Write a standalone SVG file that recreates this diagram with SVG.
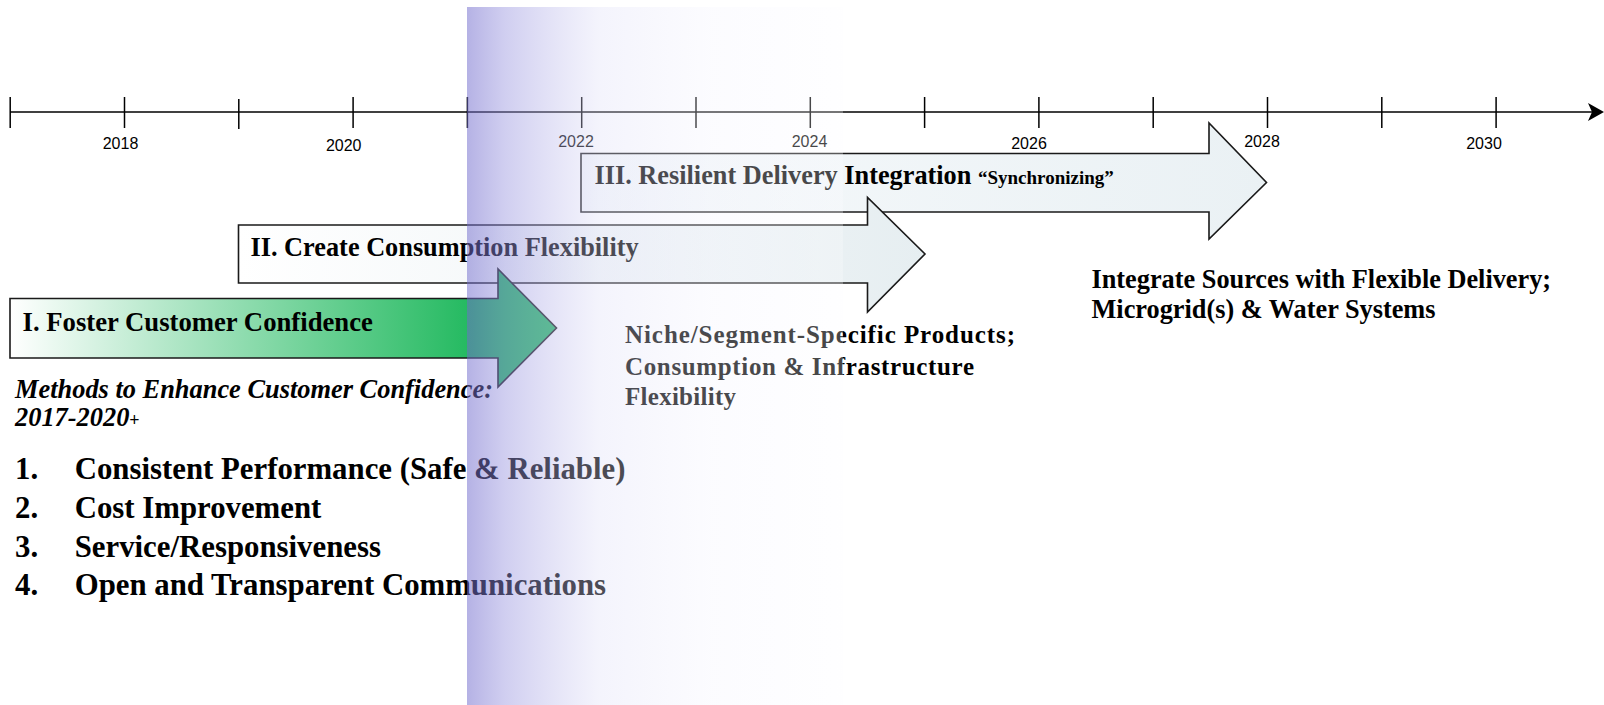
<svg xmlns="http://www.w3.org/2000/svg" width="1604" height="705" viewBox="0 0 1604 705">
<defs>
<style>
.tick{stroke:#000;stroke-width:1.5}
.yr{font-family:"Liberation Sans",Arial,sans-serif;font-size:16px;fill:#000;text-anchor:middle}
.arrow{stroke:#1a1a1a;stroke-width:1.6}
.t{font-family:"Liberation Serif","Times New Roman",serif;font-weight:bold;fill:#000}
.big{font-size:26.3px}
.list{font-size:30.8px}
.niche{font-size:25px}
</style>
<linearGradient id="gI" gradientUnits="userSpaceOnUse" x1="10" y1="0" x2="475" y2="0">
<stop offset="0" stop-color="#ffffff"/>
<stop offset="0.5" stop-color="#8fdcaf"/>
<stop offset="1" stop-color="#22b95f"/>
</linearGradient>
<linearGradient id="gII" gradientUnits="userSpaceOnUse" x1="238" y1="0" x2="925" y2="0">
<stop offset="0" stop-color="#ffffff"/>
<stop offset="1" stop-color="#e6eef1"/>
</linearGradient>
<linearGradient id="gIII" gradientUnits="userSpaceOnUse" x1="581" y1="0" x2="1266" y2="0">
<stop offset="0" stop-color="#f6f9fb"/>
<stop offset="1" stop-color="#eaf1f4"/>
</linearGradient>
<linearGradient id="gBand" gradientUnits="userSpaceOnUse" x1="467" y1="0" x2="843" y2="0">
<stop offset="0" stop-color="rgb(112,106,204)" stop-opacity="0.52"/>
<stop offset="0.1" stop-color="rgb(150,146,222)" stop-opacity="0.45"/>
<stop offset="0.35" stop-color="rgb(222,222,247)" stop-opacity="0.34"/>
<stop offset="0.65" stop-color="rgb(244,244,254)" stop-opacity="0.3"/>
<stop offset="1" stop-color="rgb(252,252,255)" stop-opacity="0.28"/>
</linearGradient>
</defs>
<rect width="1604" height="705" fill="#ffffff"/>

<g id="timeline">
<line x1="10" y1="112" x2="1598" y2="112" stroke="#000" stroke-width="1.6"/>
<path d="M1588,103 L1604,112 L1588,121 L1592,112 Z" fill="#000"/>
<line class="tick" x1="10.2" y1="97" x2="10.2" y2="128"/>
<line class="tick" x1="124.5" y1="97" x2="124.5" y2="128"/>
<line class="tick" x1="238.8" y1="99" x2="238.8" y2="129"/>
<line class="tick" x1="353.1" y1="97" x2="353.1" y2="128"/>
<line class="tick" x1="467.4" y1="97" x2="467.4" y2="128"/>
<line class="tick" x1="581.7" y1="97" x2="581.7" y2="128"/>
<line class="tick" x1="696" y1="97" x2="696" y2="128"/>
<line class="tick" x1="810.3" y1="97" x2="810.3" y2="128"/>
<line class="tick" x1="924.6" y1="97" x2="924.6" y2="128"/>
<line class="tick" x1="1038.9" y1="97" x2="1038.9" y2="128"/>
<line class="tick" x1="1153.2" y1="97" x2="1153.2" y2="128"/>
<line class="tick" x1="1267.5" y1="97" x2="1267.5" y2="128"/>
<line class="tick" x1="1381.8" y1="97" x2="1381.8" y2="128"/>
<line class="tick" x1="1496.1" y1="97" x2="1496.1" y2="128"/>
<text class="yr" x="120.5" y="149">2018</text>
<text class="yr" x="343.7" y="151">2020</text>
<text class="yr" x="576" y="146.5">2022</text>
<text class="yr" x="809.5" y="146.5">2024</text>
<text class="yr" x="1029" y="149">2026</text>
<text class="yr" x="1262" y="146.5">2028</text>
<text class="yr" x="1484" y="149">2030</text>
</g>

<g id="phase3">
<path class="arrow" fill="url(#gIII)" d="M581,153.5 H1209 V123 L1266.5,182.5 L1209,239 V212 H581 Z"/>
<text class="t big" x="594.5" y="184">III. Resilient Delivery Integration <tspan font-size="19px">“Synchronizing”</tspan></text>
</g>

<g id="phase2">
<path class="arrow" fill="url(#gII)" d="M238.5,225 H867.5 V197.5 L925,254 L867.5,312 V283 H238.5 Z"/>
<text class="t big" x="250.5" y="256">II. Create Consumption Flexibility</text>
</g>

<g id="phase1">
<path class="arrow" fill="url(#gI)" d="M10,298.5 H498 V269 L556.5,328 L498,387 V358 H10 Z"/>
<text class="t" font-size="26.7px" x="22.5" y="330.5">I. Foster Customer Confidence</text>
</g>

<g id="phase2-note">
<text class="t niche" x="625" y="343" textLength="390" lengthAdjust="spacing">Niche/Segment-Specific Products;</text>
<text class="t niche" x="625" y="374.5" textLength="349" lengthAdjust="spacing">Consumption &amp; Infrastructure</text>
<text class="t niche" x="625" y="405" textLength="111" lengthAdjust="spacing">Flexibility</text>
</g>

<g id="phase3-note">
<text class="t big" x="1091.5" y="287.5">Integrate Sources with Flexible Delivery;</text>
<text class="t big" x="1091.5" y="318">Microgrid(s) &amp; Water Systems</text>
</g>

<g id="methods">
<text class="t" font-style="italic" font-size="26.4px" x="15" y="398">Methods to Enhance Customer Confidence:</text>
<text class="t" font-style="italic" font-size="26.4px" x="15" y="425.5">2017-2020<tspan font-size="18px" font-style="normal">+</tspan></text>
<g class="t list">
<text x="15" y="478.7">1.</text><text x="74.7" y="478.7">Consistent Performance (Safe &amp; Reliable)</text>
<text x="15" y="517.6">2.</text><text x="74.7" y="517.6">Cost Improvement</text>
<text x="15" y="556.5">3.</text><text x="74.7" y="556.5">Service/Responsiveness</text>
<text x="15" y="595.4">4.</text><text x="74.7" y="595.4">Open and Transparent Communications</text>
</g>
</g>

<g id="connectors"></g>

<rect id="band" x="467" y="7" width="376" height="698" fill="url(#gBand)"/>
</svg>
